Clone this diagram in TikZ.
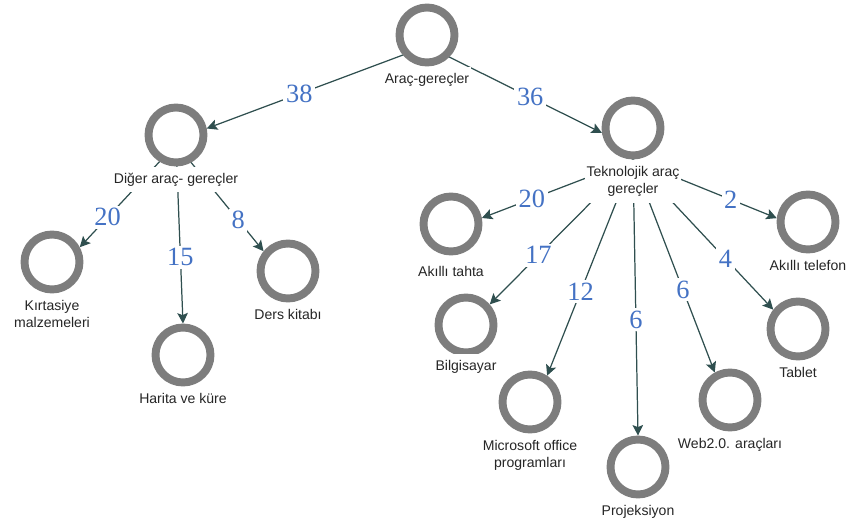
\documentclass[tikz,border=0pt]{standalone}
\usepackage{fontspec}
\setmainfont{Liberation Sans}
\newfontfamily\numfont{Liberation Serif}
\usetikzlibrary{positioning, arrows.meta}
\definecolor{ringgray}{RGB}{125,125,125}
\definecolor{edgeteal}{RGB}{47,79,79}
\definecolor{numblue}{RGB}{68,114,196}
\pgfdeclarelayer{bg}
\pgfsetlayers{bg,main}
\tikzset{
  ring/.style={circle, draw=ringgray, line width=4.5pt, fill=white, minimum size=1.1cm, inner sep=0pt},
  lbl/.style={font=\fontsize{8}{10}\selectfont, text=black!85, fill=white, inner xsep=1pt, inner ysep=3.5pt, align=center},
  num/.style={font=\numfont\fontsize{15}{15}\selectfont, text=numblue, fill=white, inner sep=1.5pt},
  arrow/.style={draw=edgeteal, line width=0.7pt, -{Stealth[length=6pt,width=6pt,inset=1.2pt]}}
}

\begin{document}
\begin{tikzpicture}[x=0.02cm, y=-0.02cm, node distance=0pt]
  \useasboundingbox (0,0) rectangle (847,519);

  % --- rings ---
  \node (root-r) [ring] at (427,35) {};
  \node (diger-r) [ring] at (176,135) {};
  \node (tekno-r) [ring] at (633,128) {};
  \node (kirt-r) [ring] at (52,262) {};
  \node (harita-r) [ring] at (183,355) {};
  \node (ders-r) [ring] at (288,271) {};
  \node (tahta-r) [ring] at (451,224) {};
  \node (telefon-r) [ring] at (808,222) {};
  \node (bilg-r) [ring] at (466,325) {};
  \node (tablet-r) [ring] at (798,329) {};
  \node (msoff-r) [ring] at (530,402) {};
  \node (proj-r) [ring] at (638,467) {};
  \node (web-r) [ring] at (730,400) {};

  % --- labels ---
  \node (root-l) [lbl, below=of root-r] {Araç-gereçler};
  \node (diger-l) [lbl, below=of diger-r] {Diğer araç- gereçler};
  \node (tekno-l) [lbl, below=of tekno-r] {Teknolojik araç\\gereçler};
  \node (kirt-l) [lbl, below=of kirt-r] {Kırtasiye\\malzemeleri};
  \node (harita-l) [lbl, below=of harita-r] {Harita ve küre};
  \node (ders-l) [lbl, below=of ders-r] {Ders kitabı};
  \node (tahta-l) [lbl, below=2.5pt of tahta-r] {Akıllı tahta};
  \node (telefon-l) [lbl, below=of telefon-r] {Akıllı telefon};
  \node (bilg-l) [lbl, below=-1.5pt of bilg-r] {Bilgisayar};
  \node (tablet-l) [lbl, below=of tablet-r] {Tablet};
  \node (msoff-l) [lbl, below=of msoff-r] {Microsoft office\\programları};
  \node (proj-l) [lbl, below=of proj-r] {Projeksiyon};
  \node (web-l) [lbl, below=of web-r] {Web2.0. araçları};

  \coordinate (root) at (427,46);
  \coordinate (diger) at (176,144);
  \coordinate (tekno) at (633,160);

  % --- edges ---
  \begin{pgfonlayer}{bg}
    \draw [arrow] (root) -- node[num, pos=0.58] {38} (diger-r.12);
    \draw [arrow] (root) -- node[num, pos=0.59] {36} (tekno-r.189);

    \draw [arrow] (diger) -- node[num, pos=0.71] {20} (kirt-r.28);
    \draw [arrow] (diger) -- node[num, pos=0.63] {15} (harita-r.90);
    \draw [arrow] (diger) -- node[num, pos=0.71] {8} (ders-r.141);

    \draw [arrow] (tekno) -- node[num, pos=0.67] {20} (tahta-r.11);
    \draw [arrow] (tekno) -- node[num, pos=0.68] {2} (telefon-r.173);
    \draw [arrow] (tekno) -- node[num, pos=0.66] {17} (bilg-r.41);
    \draw [arrow] (tekno) -- node[num, pos=0.61] {12} (msoff-r.57);
    \draw [arrow] (tekno) -- node[num, pos=0.58] {6} (proj-r.90);
    \draw [arrow] (tekno) -- node[num, pos=0.61] {6} (web-r.119);
    \draw [arrow] (tekno) -- node[num, pos=0.66] {4} (tablet-r.142);
  \end{pgfonlayer}
\end{tikzpicture}
\end{document}
